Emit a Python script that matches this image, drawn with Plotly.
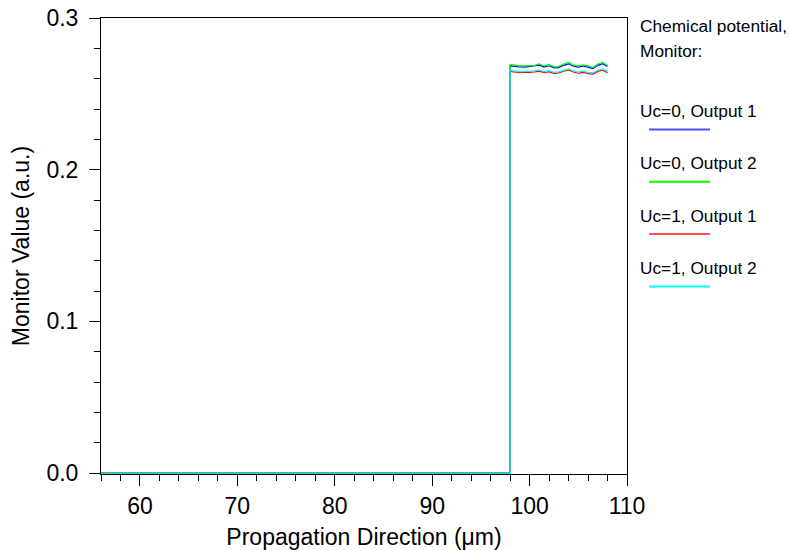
import plotly.graph_objects as go

# ---- data ----
x_base = [56.0, 98.0]
y_base = [0.0, 0.0]
x_wave = [98.0, 98.5, 99.0, 99.5, 100.0, 100.5, 101.0, 101.5, 102.0, 102.5,
          103.0, 103.5, 104.0, 104.5, 105.0, 105.5, 106.0, 106.5, 107.0, 107.5, 108.0]

uc0_out1 = [0.2685, 0.2680, 0.2677, 0.2676, 0.2679, 0.2681, 0.2689, 0.2676, 0.2685, 0.2671,
            0.2673, 0.2688, 0.2698, 0.2682, 0.2676, 0.2684, 0.2677, 0.2666, 0.2688, 0.2699, 0.2680]
uc0_out2 = [0.2694, 0.2688, 0.2684, 0.2684, 0.2688, 0.2688, 0.2697, 0.2684, 0.2694, 0.2678,
            0.2681, 0.2697, 0.2707, 0.2691, 0.2684, 0.2691, 0.2684, 0.2674, 0.2697, 0.2707, 0.2688]
uc1_out1 = [0.2648, 0.2642, 0.2640, 0.2643, 0.2641, 0.2645, 0.2650, 0.2640, 0.2646, 0.2634,
            0.2638, 0.2650, 0.2658, 0.2644, 0.2636, 0.2642, 0.2633, 0.2630, 0.2648, 0.2656, 0.2640]
uc1_out2 = [0.2654, 0.2649, 0.2646, 0.2648, 0.2648, 0.2651, 0.2657, 0.2647, 0.2653, 0.2642,
            0.2645, 0.2657, 0.2665, 0.2651, 0.2644, 0.2650, 0.2641, 0.2638, 0.2655, 0.2664, 0.2648]

series_names = ["Uc=0, Output 1", "Uc=0, Output 2", "Uc=1, Output 1", "Uc=1, Output 2"]
series_values = [uc0_out1, uc0_out2, uc1_out1, uc1_out2]
series_colors = ["#0000ff", "#00ff00", "#ff0000", "#00ffff"]
legend_colors = ["#5050ff", "#00ff00", "#ff5050", "#00ffff"]

x_ticks = [60, 70, 80, 90, 100, 110]
y_ticks = [0.0, 0.1, 0.2, 0.3]
y_tick_text = ["0.0", "0.1", "0.2", "0.3"]

FONT = "Liberation Sans, Arial, sans-serif"

fig = go.Figure()
for name, vals, col in zip(series_names, series_values, series_colors):
    fig.add_trace(go.Scatter(
        x=x_base + x_wave, y=y_base + vals, mode="lines", name=name,
        line=dict(color=col, width=1.2), showlegend=False, hoverinfo="skip"))

axis_common = dict(
    showline=True, linecolor="black", linewidth=1, mirror=True,
    ticks="outside", ticklen=11, tickcolor="black", tickwidth=1,
    showgrid=False, zeroline=False, layer="below traces", automargin=False,
    tickfont=dict(family=FONT, size=23, color="black"),
)

fig.update_xaxes(
    range=[56, 110], tickvals=x_ticks, ticklabelstandoff=0,
    minor=dict(dtick=2, tick0=0, ticks="outside", ticklen=6, tickcolor="black", showgrid=False),
    title=dict(text="Propagation Direction (\u03bcm)", font=dict(family=FONT, size=23, color="black"),
               standoff=14),
    **axis_common)
fig.update_yaxes(
    range=[-0.0006, 0.3], tickvals=y_ticks, ticktext=y_tick_text, ticklabelstandoff=6,
    minor=dict(dtick=0.02, tick0=0, ticks="outside", ticklen=6, tickcolor="black", showgrid=False),
    title=dict(text="Monitor Value (a.u.)", font=dict(family=FONT, size=23, color="black"),
               standoff=10),
    **axis_common)

# legend drawn as text + line samples to the right of the plot
annotations = [
    dict(text="Chemical potential,", x=638, y=26),
    dict(text="Monitor:", x=638, y=51),
]
shapes = []
for i, (name, col) in enumerate(zip(series_names, legend_colors)):
    yc = 111 + 52.3 * i
    annotations.append(dict(text=name, x=638, y=yc))
    shapes.append(dict(type="line", xref="paper", yref="paper",
                       x0=(649 - 101) / 526, x1=(710 - 101) / 526,
                       y0=(474 - (yc + 18.5)) / 456, y1=(474 - (yc + 18.5)) / 456,
                       line=dict(color=col, width=2)))

ann_objs = []
for a in annotations:
    ann_objs.append(dict(
        text=a["text"], xref="paper", yref="paper",
        x=(a["x"] - 101) / 526, y=(474 - a["y"]) / 456,
        xanchor="left", yanchor="middle", showarrow=False,
        font=dict(family=FONT, size=17.3, color="black")))

fig.update_layout(
    width=790, height=550,
    margin=dict(l=101, r=163, t=18, b=76, pad=0, autoexpand=False),
    paper_bgcolor="white", plot_bgcolor="white",
    annotations=ann_objs, shapes=shapes,
    showlegend=False,
)

fig.write_html("out.html", config={"displayModeBar": False},
               post_script="document.body.style.margin='0';document.body.style.overflow='hidden';")
